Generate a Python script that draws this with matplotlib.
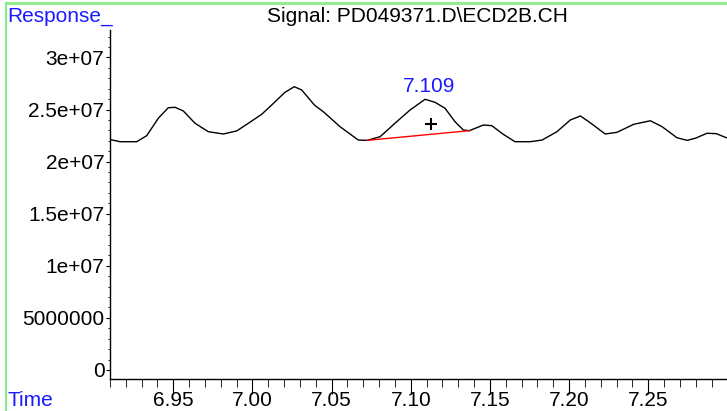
import matplotlib
matplotlib.use("Agg")
import matplotlib.pyplot as plt
from matplotlib.ticker import MultipleLocator
from matplotlib.lines import Line2D

plt.rcParams['font.family'] = ['Liberation Sans', 'DejaVu Sans']

# Signal trace (time in min, response)
time = [6.9094, 6.9163, 6.9269, 6.9332, 6.9405, 6.9468, 6.9511, 6.9563, 6.9637,
        6.9721, 6.9816, 6.9900, 6.9974, 7.0058, 7.0121, 7.0205, 7.0264, 7.0311,
        7.0391, 7.0447, 7.0553, 7.0668, 7.0725, 7.0806, 7.0911, 7.0995, 7.1090,
        7.1153, 7.1216, 7.1279, 7.1332, 7.1370, 7.1458, 7.1511, 7.1584, 7.1658,
        7.1755, 7.1829, 7.1923, 7.2007, 7.2071, 7.2124, 7.2228, 7.2302, 7.2408,
        7.2513, 7.2587, 7.2681, 7.2745, 7.2797, 7.2871, 7.2930, 7.2993]
response = [22.14, 21.91, 21.91, 22.49, 24.16, 25.17, 25.21, 24.86, 23.68,
            22.87, 22.65, 22.94, 23.68, 24.54, 25.43, 26.65, 27.19, 26.87,
            25.43, 24.79, 23.35, 22.07, 22.04, 22.39, 23.83, 24.95, 25.98,
            25.69, 25.12, 23.83, 23.03, 22.97, 23.51, 23.45, 22.62, 21.91,
            21.91, 22.07, 22.87, 23.99, 24.38, 23.83, 22.65, 22.81, 23.58,
            23.92, 23.35, 22.29, 22.04, 22.24, 22.72, 22.68, 22.29]
response = [v * 1e6 for v in response]

# Integration baseline of the labelled peak
baseline_t = [7.0725, 7.1370]
baseline_v = [22.04e6, 22.97e6]
peak_label = "7.109"
peak_label_t = 7.1115
peak_label_v = 27.19e6
apex_mark_t = 7.1126
apex_mark_v = 23.58e6

yticks = [0, 5e6, 1e7, 1.5e7, 2e7, 2.5e7, 3e7]
ytick_labels = ["0", "5000000", "1e+07", "1.5e+07", "2e+07", "2.5e+07", "3e+07"]
xticks = [6.95, 7.00, 7.05, 7.10, 7.15, 7.20, 7.25]
xtick_labels = ["6.95", "7.00", "7.05", "7.10", "7.15", "7.20", "7.25"]

W, H = 727, 411
fig = plt.figure(figsize=(W / 100, H / 100), dpi=100)
ax = fig.add_axes([110 / W, (H - 379) / H, 1 - 110 / W, (379 - 30) / H])

ax.plot(time, response, color='black', lw=1.0, solid_joinstyle='round')
ax.plot(baseline_t, baseline_v, color='red', lw=1.0)
ax.text(peak_label_t, peak_label_v, peak_label, color='#1a1aff', fontsize=15,
        ha='center', va='center')
ax.plot([apex_mark_t], [apex_mark_v], marker='+', color='black', ms=9, mew=1.5)

ax.set_xlim(6.910, 7.2997)
ax.set_ylim(-0.864e6, 32.63e6)

for s in ['top', 'right']:
    ax.spines[s].set_visible(False)
for s in ['left', 'bottom']:
    ax.spines[s].set_linewidth(1.0)

ax.set_yticks(yticks)
ax.set_yticklabels(ytick_labels)
ax.set_xticks(xticks)
ax.set_xticklabels(xtick_labels)
ax.yaxis.set_minor_locator(MultipleLocator(1e6))
ax.xaxis.set_minor_locator(MultipleLocator(0.01))
ax.tick_params(axis='y', which='major', length=3, pad=1, labelsize=15)
ax.tick_params(axis='y', which='minor', length=1.5)
ax.tick_params(axis='x', which='major', length=11, pad=-2.5, labelsize=15)
ax.tick_params(axis='x', which='minor', length=6)

fig.text(417 / W, 1 - 17 / H, r"Signal: PD049371.D\ECD2B.CH", fontsize=15,
         ha='center', va='center', color='black')
fig.text(7 / W, 1 - 16 / H, "Response_", fontsize=15, ha='left', va='center',
         color='#1a1aff')
fig.text(7 / W, 1 - 400 / H, "Time", fontsize=15, ha='left', va='center',
         color='#1a1aff')

green = '#88ee88'
fig.add_artist(Line2D([6 / W, 1], [1 - 3 / H, 1 - 3 / H], color=green, lw=2,
                      transform=fig.transFigure))
fig.add_artist(Line2D([6 / W, 6 / W], [0, 1 - 3 / H], color=green, lw=1.5,
                      transform=fig.transFigure))

fig.savefig("out.png", dpi=100)
